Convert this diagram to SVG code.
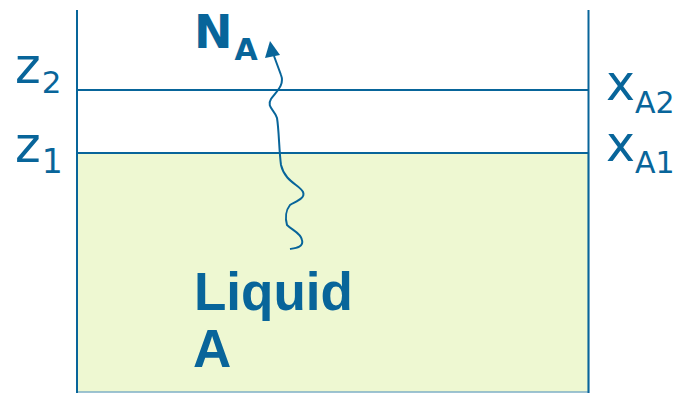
<svg xmlns="http://www.w3.org/2000/svg" width="681" height="393" viewBox="0 0 681 393">
<style>
.ln{stroke:#08659a;stroke-width:2;fill:none}
.lbl{font-family:"DejaVu Sans",Verdana,sans-serif;fill:#08659a}
.bold{font-family:"Liberation Sans",Arial,sans-serif;font-weight:bold;fill:#08659a}
.bd{font-family:"DejaVu Sans",Verdana,sans-serif;font-weight:bold;fill:#08659a}
</style>
<rect width="681" height="393" fill="#ffffff"/>
<g id="liquid">
<rect x="77" y="153" width="511.5" height="239" fill="#eef8d2" stroke="#7fb0c6" stroke-width="1.5"/>
<text class="bold" x="194" y="310" font-size="53">Liquid</text>
<text class="bold" x="193" y="367" font-size="53">A</text>
</g>
<g id="walls">
<line class="ln" x1="77" y1="10" x2="77" y2="393"/>
<line class="ln" x1="588.5" y1="10" x2="588.5" y2="393"/>
<line class="ln" x1="77" y1="90" x2="588.5" y2="90"/>
<line class="ln" x1="77" y1="153" x2="588.5" y2="153" stroke-width="1.5"/>
</g>
<g id="labels">
<text class="lbl" x="15" y="83" font-size="49">z<tspan font-size="31" dy="10" dx="1">2</tspan></text>
<text class="lbl" x="15" y="162" font-size="49">z<tspan font-size="33" dy="11" dx="1">1</tspan></text>
<text class="lbl" x="606" y="100" font-size="49">x<tspan font-size="30" dy="13" dx="0">A2</tspan></text>
<text class="lbl" x="606" y="161" font-size="49">x<tspan font-size="30" dy="12" dx="0">A1</tspan></text>
<text class="bd" x="194" y="48" font-size="46">N<tspan font-size="30" dy="12" dx="2">A</tspan></text>
</g>
<g id="connectors">
<path class="ln" stroke-width="1.8" d="M290,249 C296,248 304,247 302,240 C301,233 292,230 287,225 C285,218 286,210 290,205 C294,202 306,199 303,192 C300,185 285,182 281,165 C279,150 279,130 277,118 C275,110 266,107 271,99 C276,92 285,85 281,75 L274,56"/>
<polygon points="265,58 270,41 280,55" fill="#08659a"/>
</g>
</svg>
